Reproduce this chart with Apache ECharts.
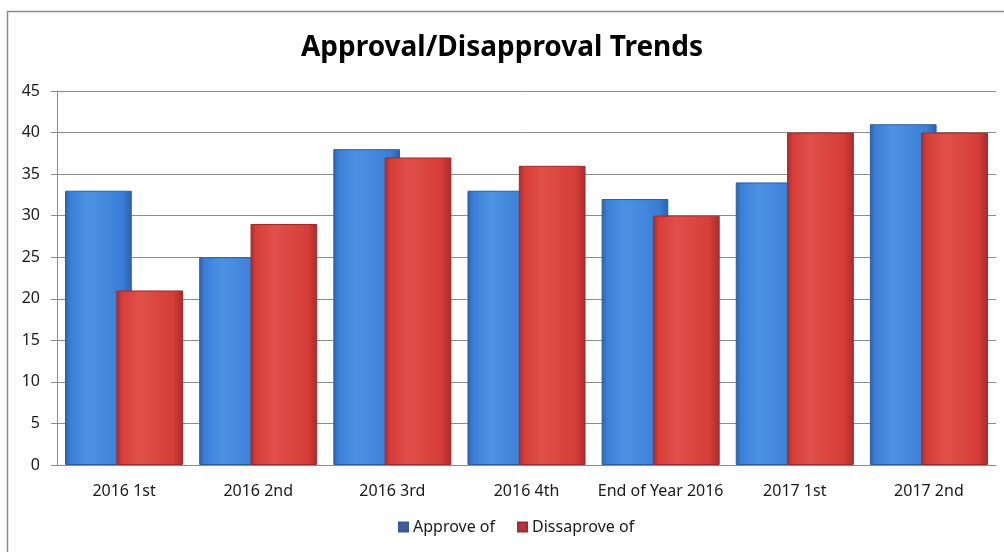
<!DOCTYPE html>
<html><head><meta charset="utf-8">
<script src="https://cdn.jsdelivr.net/npm/echarts@6/dist/echarts.min.js"></script>
<style>html,body{margin:0;padding:0;background:#fff}#c{width:1004px;height:552px}</style>
</head><body><div id="c"></div>
<script>
const categories = ['2016 1st','2016 2nd','2016 3rd','2016 4th','End of Year 2016','2017 1st','2017 2nd'];
const approve = [33, 25, 38, 33, 32, 34, 41];
const disapprove = [21, 29, 37, 36, 30, 40, 40];
const seriesNames = ['Approve of', 'Dissaprove of'];
const titleText = 'Approval/Disapproval Trends';

function grad(edge, mid, light) {
  return new echarts.graphic.LinearGradient(0, 0, 1, 0, [
    {offset: 0, color: edge},
    {offset: 0.08, color: mid},
    {offset: 0.35, color: light},
    {offset: 0.85, color: mid},
    {offset: 1, color: edge}
  ]);
}
const font = '"Noto Sans", "Open Sans", sans-serif';
const chart = echarts.init(document.getElementById('c'));
chart.setOption({
  animation: false,
  backgroundColor: '#fff',
  graphic: [{
    type: 'rect', shape: {x: 7.5, y: 11.5, width: 1100, height: 700},
    style: {fill: 'none', stroke: '#8a8a8a', lineWidth: 1.5}, silent: true, z: -1
  }],
  title: {
    text: titleText, left: 'center', top: 29,
    textStyle: {fontFamily: font, fontWeight: 'bold', fontSize: 28, color: '#000'}
  },
  legend: {
    bottom: 12, left: 393, itemWidth: 9, itemHeight: 9, itemGap: 22,
    icon: 'rect',
    textStyle: {fontFamily: font, fontSize: 16, color: '#1a1a1a'},
    data: [
      {name: seriesNames[0], itemStyle: {color: '#4d5796'}},
      {name: seriesNames[1], itemStyle: {color: '#b33648'}}
    ]
  },
  grid: {left: 57, right: 8, top: 91, bottom: 87, containLabel: false},
  xAxis: {
    type: 'category', data: categories,
    axisLine: {lineStyle: {color: '#8c8c8c'}},
    axisTick: {show: false},
    axisLabel: {interval: 0, fontFamily: font, fontSize: 16, color: '#1a1a1a', margin: 18}
  },
  yAxis: {
    type: 'value', min: 0, max: 45, interval: 5,
    axisLine: {show: true, lineStyle: {color: '#8c8c8c'}},
    axisTick: {show: true, length: 6, lineStyle: {color: '#8c8c8c'}},
    splitLine: {lineStyle: {color: '#8c8c8c'}},
    axisLabel: {fontFamily: font, fontSize: 16, color: '#1a1a1a', margin: 17}
  },
  series: [
    {
      name: seriesNames[0], type: 'bar', data: approve,
      barGap: '-23%', barCategoryGap: '12%',
      itemStyle: {color: grad('#2c62ae', '#3b7fd6', '#4c92e4'), borderColor: '#2d5d9e', borderWidth: 1}
    },
    {
      name: seriesNames[1], type: 'bar', data: disapprove,
      barGap: '-23%', barCategoryGap: '12%',
      itemStyle: {color: grad('#a82c2c', '#d63d38', '#e0504a'), borderColor: '#9e2a2a', borderWidth: 1}
    }
  ]
});
</script></body></html>
